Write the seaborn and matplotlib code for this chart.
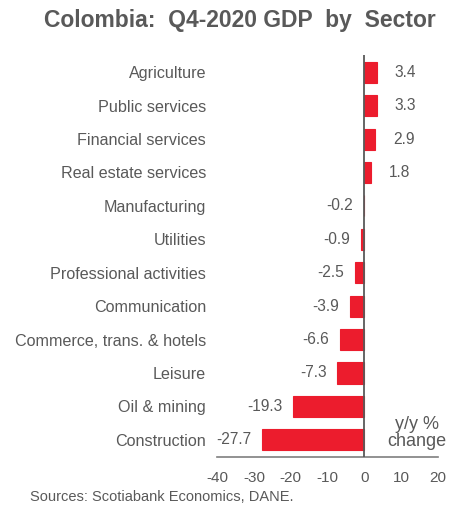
import pandas as pd
import seaborn as sns
import matplotlib.pyplot as plt

sectors = ["Agriculture", "Public services", "Financial services", "Real estate services",
           "Manufacturing", "Utilities", "Professional activities", "Communication",
           "Commerce, trans. & hotels", "Leisure", "Oil & mining", "Construction"]
growth = [3.4, 3.3, 2.9, 1.8, -0.2, -0.9, -2.5, -3.9, -6.6, -7.3, -19.3, -27.7]
xticks = [-40, -30, -20, -10, 0, 10, 20]

df = pd.DataFrame({"sector": sectors, "growth": growth})

sns.set_style("white")
plt.rcParams["font.family"] = ["Liberation Sans", "DejaVu Sans"]
gray = "#595959"
red = "#EC1C2D"

fig = plt.figure(figsize=(4.62, 5.08), dpi=100)
ax = fig.add_axes([0.47, 0.10, 0.478, 0.792])

sns.barplot(data=df, y="sector", x="growth", orient="h", color=red,
            saturation=1, width=0.63, edgecolor=red, linewidth=0.8, ax=ax)

ax.set_xlim(-40, 20)
ax.set_ylim(11.52, -0.52)
ax.set_xticks(xticks)
ax.set_xticklabels([str(t) for t in xticks])
ax.set_xlabel("")
ax.set_ylabel("")
ax.tick_params(axis="x", length=0, pad=10, labelsize=11, labelcolor=gray)
ax.tick_params(axis="y", length=0, pad=8, labelsize=11.6, labelcolor=gray)

for s in ["top", "right", "left"]:
    ax.spines[s].set_visible(False)
ax.spines["bottom"].set_color("#7f7f7f")
ax.spines["bottom"].set_linewidth(1.2)
ax.axvline(0, color="#595959", lw=1.3, zorder=3)

for i, v in enumerate(growth):
    if v >= 0:
        ax.annotate(f"{v:.1f}", (v, i), xytext=(13, 0), textcoords="offset points",
                    ha="left", va="center", fontsize=11.2, color=gray)
    else:
        ax.annotate(f"{v:.1f}", (v, i), xytext=(-8, 0), textcoords="offset points",
                    ha="right", va="center", fontsize=11.2, color=gray)

ax.text(14.2, 10.8, "y/y %\nchange", ha="center", va="center", fontsize=13,
        color=gray, linespacing=0.95)

fig.text(0.52, 0.96, "Colombia:  Q4-2020 GDP  by  Sector", ha="center", va="center",
         fontsize=16.5, fontweight="bold", color=gray)
fig.text(0.065, 0.022, "Sources: Scotiabank Economics, DANE.", ha="left", va="center",
         fontsize=10.5, color=gray)

plt.savefig("out.png", dpi=100)
